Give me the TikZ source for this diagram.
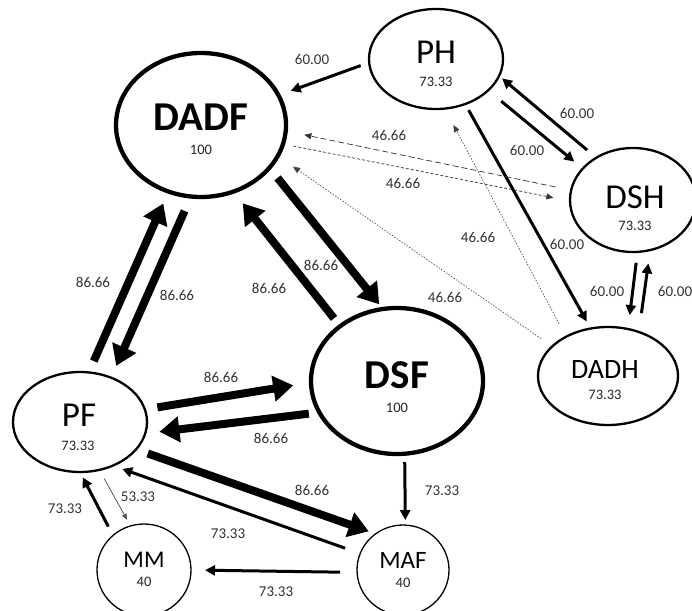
\documentclass[tikz,border=0pt]{standalone}
\usepackage{fontspec}
\setmainfont{Carlito}
\usetikzlibrary{shapes.geometric,arrows.meta}
\tikzset{
  st/.style={ellipse, draw, inner sep=0pt, outer sep=0pt},
  stbig/.style={st, line width=4.3pt},
  stmid/.style={st, line width=2.3pt},
  stsmall/.style={st, line width=1.3pt},
  nmbold/.style={inner sep=0pt, font=\fontsize{41}{41}\selectfont\bfseries},
  nm/.style={inner sep=0pt, font=\fontsize{#1}{#1}\selectfont},
  val/.style={inner sep=0pt, font=\fontsize{14.5}{14.5}\selectfont, text=black!85},
  lab/.style={inner sep=0pt, font=\fontsize{15}{15}\selectfont, text=black!80},
  e86/.style={line width=8pt, -{Triangle[length=20pt,width=25pt]}},
  e60/.style={line width=3pt, -{Triangle[length=10pt,width=10pt]}},
  ethin/.style={line width=0.8pt, draw=black!65, -{Triangle[length=6pt,width=5pt]}},
  elong/.style={line width=0.7pt, draw=black!80, dash pattern=on 6pt off 3pt, -{Triangle[length=7pt,width=6pt]}},
  eshort/.style={line width=0.7pt, draw=black!80, dash pattern=on 3pt off 2pt, -{Triangle[length=7pt,width=6pt]}},
  edot/.style={line width=0.6pt, draw=black!75, dash pattern=on 1.5pt off 1.5pt, -{Triangle[length=7pt,width=6pt]}},
}
\begin{document}
\begin{tikzpicture}[x=1pt,y=-1pt]
\clip (0,0) rectangle (692,610);
\fill[white] (0,0) rectangle (692,610);
% states
\node[stbig, minimum width=170pt, minimum height=144pt] (DADF) at (201,125) {};
\node[stmid, minimum width=134pt, minimum height=100pt] (PH) at (436,59) {};
\node[stmid, minimum width=126pt, minimum height=104pt] (DSH) at (633,200) {};
\node[stmid, minimum width=140pt, minimum height=98pt] (DADH) at (608,376) {};
\node[stbig, minimum width=172pt, minimum height=146pt] (DSF) at (397,381) {};
\node[stmid, minimum width=134pt, minimum height=100pt] (PF) at (80,422) {};
\node[stsmall, minimum width=94pt, minimum height=92pt] (MM) at (144,570) {};
\node[stsmall, minimum width=92pt, minimum height=90pt] (MAF) at (403,570) {};
% state texts
\node[nmbold] (DADFn) at (201,117) {DADF};
\node[val] (DADFv) at (201,150) {100};
\node[nm=35] (PHn) at (436,52) {PH};
\node[val] (PHv) at (436,82) {73.33};
\node[nm=35] (DSHn) at (635,197) {DSH};
\node[val] (DSHv) at (635,226) {73.33};
\node[nm=28] (DADHn) at (605,370) {DADH};
\node[val] (DADHv) at (605,395) {73.33};
\node[nmbold] (DSFn) at (397,375) {DSF};
\node[val] (DSFv) at (397,408) {100};
\node[nm=35] (PFn) at (79,415) {PF};
\node[val] (PFv) at (78,446) {73.33};
\node[nm=24] (MMn) at (144,560) {MM};
\node[val] (MMv) at (144,582) {40};
\node[nm=25] (MAFn) at (403,560) {MAF};
\node[val] (MAFv) at (403,583) {40};
% transitions
\draw[e60, shorten <=9pt, shorten >=13pt] (PH.183) -- (DADF.21.5);
\draw[e60, shorten <=17pt, shorten >=11pt] (PH.-31.8) -- (DSH.148.3);
\draw[e60, shorten <=12pt, shorten >=4pt] (DSH.131.4) -- (PH.-15);
\draw[e60, shorten <=7pt, shorten >=8pt] (PH.-57.9) -- (DADH.110);
\draw[e60, shorten <=11pt, shorten >=14pt] (DSH.-85.5) -- (DADH.67.4);
\draw[e60, shorten <=19pt, shorten >=13.5pt] (DADH.55.7) -- (DSH.-71.6);
\draw[elong, shorten <=16pt, shorten >=19pt] (DSH.171.3) -- (DADF.-4.4);
\draw[eshort, shorten <=10.5pt, shorten >=17pt] (DADF.-13.4) -- (DSH.181.4);
\draw[edot, shorten <=13.7pt, shorten >=18.6pt] (DADH.152.1) -- (DADF.-22);
\draw[edot, shorten <=14.7pt, shorten >=18.6pt] (DADH.137.2) -- (PH.-80.8);
\draw[e86, shorten <=13pt, shorten >=6pt] (DADF.-32.3) -- (DSF.101.6);
\draw[e86, shorten <=10pt, shorten >=15pt] (DSF.136.8) -- (DADF.-64);
\draw[e86, shorten <=12.5pt, shorten >=13pt] (PF.80.8) -- (DADF.-116.6);
\draw[e86, shorten <=15.8pt, shorten >=12.9pt] (DADF.-98.5) -- (PF.55.4);
\draw[e86, shorten <=12.7pt, shorten >=18pt] (PF.11.7) -- (DSF.181.1);
\draw[e86, shorten <=10.6pt, shorten >=14.3pt] (DSF.202.5) -- (PF.-10.8);
\draw[e86, shorten <=12.4pt, shorten >=7.4pt] (PF.-26.2) -- (MAF.127.3);
\draw[e60, shorten <=16pt, shorten >=10pt] (MAF.159.2) -- (PF.-53.8);
\draw[e60, shorten <=8.3pt, shorten >=5pt] (DSF.-84.4) -- (MAF.87.7);
\draw[e60, shorten <=17pt, shorten >=14pt] (MAF.183.6) -- (MM.0);
\draw[e60, shorten <=10pt, shorten >=6pt] (MM.132.1) -- (PF.-90);
\draw[ethin, shorten <=10pt, shorten >=7pt] (PF.-68) -- (MM.107.4);
% transition labels
\node[lab] (l1) at (312,59) {60.00};
\node[lab] (l2) at (527,150) {60.00};
\node[lab] (l3) at (577,113) {60.00};
\node[lab] (l4) at (567,244) {60.00};
\node[lab] (l5) at (607,291) {60.00};
\node[lab] (l6) at (675,291) {60.00};
\node[lab] (l7) at (389,135) {46.66};
\node[lab] (l8) at (403,183) {46.66};
\node[lab] (l9) at (445,297) {46.66};
\node[lab] (l10) at (478,237) {46.66};
\node[lab] (l11) at (321,265) {86.66};
\node[lab] (l12) at (269,288) {86.66};
\node[lab] (l13) at (93,282) {86.66};
\node[lab] (l14) at (177,295) {86.66};
\node[lab] (l15) at (221,377) {86.66};
\node[lab] (l16) at (271,438) {86.66};
\node[lab] (l17) at (312,490) {86.66};
\node[lab] (l18) at (228,534) {73.33};
\node[lab] (l19) at (442,491) {73.33};
\node[lab] (l20) at (276,592) {73.33};
\node[lab] (l21) at (65,509) {73.33};
\node[lab] (l22) at (138,497) {53.33};
\end{tikzpicture}
\end{document}
